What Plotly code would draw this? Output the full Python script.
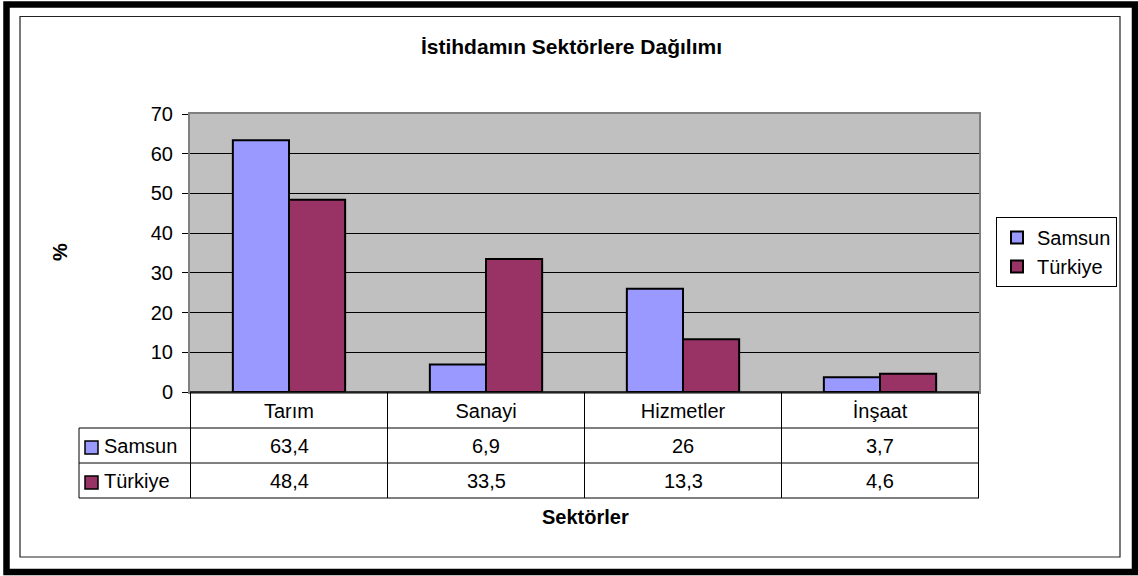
import plotly.graph_objects as go

# ---- data ----
categories = ["Tarım", "Sanayi", "Hizmetler", "İnşaat"]
series_names = ["Samsun", "Türkiye"]
samsun = [63.4, 6.9, 26, 3.7]
turkiye = [48.4, 33.5, 13.3, 4.6]
series_colors = ["#9999FF", "#993366"]
title_text = "İstihdamın Sektörlere Dağılımı"
x_title = "Sektörler"
y_title = "%"
y_ticks = [0, 10, 20, 30, 40, 50, 60, 70]

W, H = 1138, 576
L, R, T, B = 190, 979, 114, 392
FONT = "Liberation Sans, Arial, sans-serif"


def px_x(p):
    return (p - L) / (R - L)


def px_y(p):
    return (B - p) / (B - T)


def fmt(v):
    return f"{v:g}".replace(".", ",")


fig = go.Figure()
for name, vals, col in zip(series_names, [samsun, turkiye], series_colors):
    fig.add_trace(go.Bar(
        name=name, x=categories, y=vals,
        marker=dict(color=col, line=dict(color="black", width=2)),
        hoverinfo="x+y+name",
    ))

shapes = []
annotations = []

# outer frames
shapes.append(dict(type="rect", xref="paper", yref="paper",
                   x0=px_x(6.5), x1=px_x(1135), y0=px_y(4.5), y1=px_y(572),
                   line=dict(color="black", width=6.5), layer="below"))
shapes.append(dict(type="rect", xref="paper", yref="paper",
                   x0=px_x(20), x1=px_x(1120), y0=px_y(16.5), y1=px_y(557),
                   line=dict(color="#222222", width=1.2), layer="below"))

# data table grid
row_edges = [428, 463, 498]
left_edge = 79
shapes.append(dict(type="line", xref="paper", yref="paper",
                   x0=0, x1=1, y0=0, y1=0, line=dict(color="black", width=1.5)))
for ry in row_edges:
    shapes.append(dict(type="line", xref="paper", yref="paper",
                       x0=px_x(left_edge), x1=1, y0=px_y(ry), y1=px_y(ry),
                       line=dict(color="black", width=1)))
for k in range(len(categories) + 1):
    shapes.append(dict(type="line", xref="x", yref="paper",
                       x0=k - 0.5, x1=k - 0.5, y0=0, y1=px_y(row_edges[-1]),
                       line=dict(color="black", width=1)))
shapes.append(dict(type="line", xref="paper", yref="paper",
                   x0=px_x(left_edge), x1=px_x(left_edge),
                   y0=px_y(row_edges[0]), y1=px_y(row_edges[-1]),
                   line=dict(color="black", width=1)))

row_centers = [446, 481]
for name, vals, col, rc in zip(series_names, [samsun, turkiye], series_colors, row_centers):
    shapes.append(dict(type="rect", xref="paper", yref="paper",
                       x0=px_x(85), x1=px_x(98), y0=px_y(rc + 8), y1=px_y(rc - 5),
                       fillcolor=col, line=dict(color="black", width=1.5)))
    annotations.append(dict(xref="paper", yref="paper", x=px_x(102), y=px_y(rc),
                            text=name, showarrow=False, xanchor="left", yanchor="middle",
                            font=dict(family=FONT, size=20, color="black")))
    for cat, v in zip(categories, vals):
        annotations.append(dict(xref="x", yref="paper", x=cat, y=px_y(rc),
                                text=fmt(v), showarrow=False, xanchor="center",
                                yanchor="middle",
                                font=dict(family=FONT, size=20, color="black")))

# axis titles
annotations.append(dict(xref="paper", yref="paper", x=px_x(585), y=px_y(517),
                        text=x_title, showarrow=False, xanchor="center", yanchor="middle",
                        font=dict(family=FONT, size=20, color="black", weight="bold")))
annotations.append(dict(xref="paper", yref="paper", x=px_x(60), y=px_y(252),
                        text=y_title, showarrow=False, xanchor="center", yanchor="middle",
                        textangle=-90,
                        font=dict(family=FONT, size=20, color="black", weight="bold")))

fig.update_layout(
    width=W, height=H,
    margin=dict(l=L, r=W - R, t=T, b=H - B, pad=0),
    paper_bgcolor="white",
    plot_bgcolor="#C0C0C0",
    barmode="group", bargap=0.43, bargroupgap=0,
    title=dict(text=title_text, x=571.5 / W, xanchor="center",
               y=1 - 47 / H, yanchor="middle", yref="container",
               font=dict(family=FONT, size=21, color="black", weight="bold")),
    font=dict(family=FONT, size=20, color="black"),
    showlegend=True,
    legend=dict(x=px_x(996), xanchor="left", y=px_y(217), yanchor="top",
                bgcolor="white", bordercolor="black", borderwidth=1,
                font=dict(family=FONT, size=20, color="black"),
                tracegroupgap=0),
    shapes=shapes,
    annotations=annotations,
    xaxis=dict(type="category", showgrid=False, ticks="", showline=True,
               linecolor="#808080", linewidth=2, mirror=True,
               tickfont=dict(family=FONT, size=20, color="black"),
               ticklabelstandoff=0, zeroline=False),
    yaxis=dict(range=[0, 70], tickvals=y_ticks, showgrid=True, gridcolor="black",
               gridwidth=1, ticks="outside", ticklen=6, tickcolor="black",
               showline=True, linecolor="#808080", linewidth=2, mirror=True,
               tickfont=dict(family=FONT, size=20, color="black"),
               ticklabelstandoff=5, zeroline=False),
)

fig.write_html(
    "out.html",
    config={"displayModeBar": False},
    post_script="document.body.style.margin='0px';document.body.style.overflow='hidden';",
)
